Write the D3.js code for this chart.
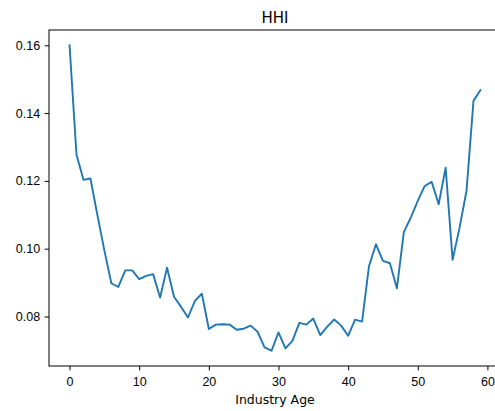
<!DOCTYPE html>
<html>
<head>
<meta charset="utf-8">
<script src="https://cdn.jsdelivr.net/npm/d3@7"></script>
<style>
  body { margin: 0; background: #fff; }
  svg { display: block; font-family: "DejaVu Sans", sans-serif; }
  .tick text { font-size: 12.5px; fill: #000; }
  .tick line { stroke: #000; stroke-width: 1; }
  .title { font-size: 15px; fill: #000; }
  .axisLabel { font-size: 12.5px; fill: #000; }
</style>
</head>
<body>
<script>
const AGES = [0, 1, 2, 3, 4, 5, 6, 7, 8, 9,
              10, 11, 12, 13, 14, 15, 16, 17, 18, 19,
              20, 21, 22, 23, 24, 25, 26, 27, 28, 29,
              30, 31, 32, 33, 34, 35, 36, 37, 38, 39,
              40, 41, 42, 43, 44, 45, 46, 47, 48, 49,
              50, 51, 52, 53, 54, 55, 56, 57, 58, 59];
const HHI = [0.1600, 0.1277, 0.1203, 0.1207, 0.1099, 0.0995, 0.0898, 0.0887, 0.0936, 0.0936,
             0.0910, 0.0920, 0.0925, 0.0856, 0.0944, 0.0858, 0.0829, 0.0797, 0.0846, 0.0867,
             0.0763, 0.0776, 0.0777, 0.0776, 0.0761, 0.0764, 0.0773, 0.0755, 0.0709, 0.0699,
             0.0753, 0.0706, 0.0728, 0.0781, 0.0776, 0.0794, 0.0745, 0.0770, 0.0791, 0.0773,
             0.0743, 0.0791, 0.0785, 0.0949, 0.1013, 0.0964, 0.0957, 0.0883, 0.1049, 0.1092,
             0.1141, 0.1185, 0.1197, 0.1131, 0.1239, 0.0967, 0.1062, 0.1171, 0.1436, 0.1468];
const X_TICKS = [0, 10, 20, 30, 40, 50, 60];
const Y_TICKS = [0.08, 0.10, 0.12, 0.14, 0.16];

const width = 495;
const height = 411;
// axes box (right edge falls just outside the picture, like the original crop)
const margin = { top: 30, right: -6, bottom: 45, left: 49 };
const tickLen = 4.4;

// matplotlib style 5% padding around the data
const pad = (lo, hi) => [lo - (hi - lo) * 0.05, hi + (hi - lo) * 0.05];

const xScale = d3.scaleLinear()
                 .domain(pad(d3.min(AGES), d3.max(AGES)))
                 .range([margin.left, width - margin.right]);
const yScale = d3.scaleLinear()
                 .domain(pad(d3.min(HHI), d3.max(HHI)))
                 .range([height - margin.bottom, margin.top]);

const svg = d3.select("body")
              .append("svg")
              .attr("width", width)
              .attr("height", height)
              .attr("viewBox", [0, 0, width, height]);

// Title
svg.append("text")
   .attr("class", "title")
   .attr("x", (margin.left + width - margin.right) / 2)
   .attr("y", margin.top - 7.5)
   .attr("text-anchor", "middle")
   .text("HHI");

// Line
const line = d3.line()
               .x((d, i) => xScale(AGES[i]))
               .y(d => yScale(d));

svg.append("path")
   .datum(HHI)
   .attr("fill", "none")
   .attr("stroke", "#1f77b4")
   .attr("stroke-width", 1.9)
   .attr("stroke-linejoin", "round")
   .attr("stroke-linecap", "square")
   .attr("d", line);

// Axes
const xAxis = d3.axisBottom(xScale)
                .tickValues(X_TICKS)
                .tickFormat(d3.format("d"))
                .tickSize(tickLen)
                .tickPadding(tickLen);
const yAxis = d3.axisLeft(yScale)
                .tickValues(Y_TICKS)
                .tickFormat(d3.format(".2f"))
                .tickSize(tickLen)
                .tickPadding(tickLen);

const gx = svg.append("g")
              .attr("transform", `translate(0,${height - margin.bottom})`)
              .call(xAxis);
gx.select(".domain").remove();
gx.selectAll(".tick text").attr("dy", "0.87em");

const gy = svg.append("g")
              .attr("transform", `translate(${margin.left},0)`)
              .call(yAxis);
gy.select(".domain").remove();

// Frame
svg.append("rect")
   .attr("x", margin.left)
   .attr("y", margin.top)
   .attr("width", width - margin.right - margin.left)
   .attr("height", height - margin.bottom - margin.top)
   .attr("fill", "none")
   .attr("stroke", "#000")
   .attr("stroke-width", 1);

svg.append("text")
   .attr("class", "axisLabel")
   .attr("x", (margin.left + width - margin.right) / 2)
   .attr("y", 403.5)
   .attr("text-anchor", "middle")
   .text("Industry Age");
</script>
</body>
</html>
